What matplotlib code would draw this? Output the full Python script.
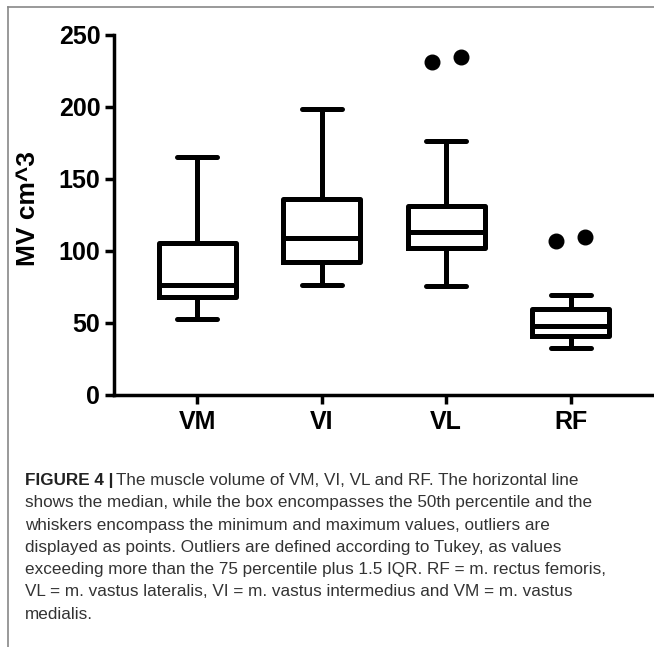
import matplotlib
matplotlib.use("Agg")
import matplotlib.pyplot as plt
from matplotlib.lines import Line2D

plt.rcParams['font.family'] = ['Liberation Sans', 'DejaVu Sans']

# muscle volume per muscle
muscles = ['VM', 'VI', 'VL', 'RF']
whisker_lo = [52.5, 76.1, 75.7, 32.5]
q1 = [67.7, 91.8, 101.7, 40.8]
median = [76.1, 108.6, 113.1, 47.5]
q3 = [105.1, 136.3, 130.9, 59.3]
whisker_hi = [165.4, 198.7, 176.3, 69.2]
outliers = [[], [], [231.0, 234.9], [106.7, 109.7]]

yticks = [0, 50, 100, 150, 200, 250]

caption_lines = [
    "shows the median, while the box encompasses the 50th percentile and the",
    "whiskers encompass the minimum and maximum values, outliers are",
    "displayed as points. Outliers are defined according to Tukey, as values",
    "exceeding more than the 75 percentile plus 1.5 IQR. RF = m. rectus femoris,",
    "VL = m. vastus lateralis, VI = m. vastus intermedius and VM = m. vastus",
    "medialis.",
]

W, H = 654, 647
fig = plt.figure(figsize=(W / 100, H / 100), dpi=100)
ax = fig.add_axes([113.5 / W, 1 - 394.5 / H, (W - 113.5) / W, 359.5 / H])

stats = []
for i, m in enumerate(muscles):
    stats.append(dict(label=m, whislo=whisker_lo[i], q1=q1[i], med=median[i],
                      q3=q3[i], whishi=whisker_hi[i], fliers=[]))

pos = list(range(1, len(muscles) + 1))
lw = 3.6
ax.bxp(stats, positions=pos, widths=0.62, capwidths=0.32, showfliers=False,
       boxprops=dict(color='black', linewidth=lw),
       medianprops=dict(color='black', linewidth=lw),
       whiskerprops=dict(color='black', linewidth=lw),
       capprops=dict(color='black', linewidth=lw, solid_capstyle='round'))

# outliers sit side by side around the box centre
for i, vals in enumerate(outliers):
    n = len(vals)
    for j, v in enumerate(vals):
        off = (j - (n - 1) / 2) * 0.23
        ax.plot(pos[i] + off, v, 'o', color='black', markersize=10.5)

ax.set_xlim(0.326, 4.67)
ax.set_ylim(0, 250)
ax.set_yticks(yticks)
ax.set_xticks(pos)
ax.set_xticklabels(muscles)
for s in ['top', 'right']:
    ax.spines[s].set_visible(False)
for s in ['left', 'bottom']:
    ax.spines[s].set_linewidth(2.5)
ax.tick_params(axis='both', width=2.5, length=6.5, labelsize=18)
ax.tick_params(axis='x', pad=5)
ax.tick_params(axis='y', pad=3)
for lab in ax.get_xticklabels() + ax.get_yticklabels():
    lab.set_fontweight('bold')

fig.text(28 / W, 1 - 209 / H, 'MV cm^3', rotation=90, ha='center', va='center',
         fontsize=19, fontweight='bold')

# grey frame around the panel
fig.add_artist(Line2D([8 / W, 8 / W], [0, 1 - 7 / H], color='#888888', linewidth=1.2))
fig.add_artist(Line2D([8 / W, 1], [1 - 7 / H, 1 - 7 / H], color='#888888', linewidth=1.2))

# caption
x0 = 25 / W
cap_size = 12.3
base = 485
step = 22.3
t = fig.text(x0, 1 - base / H, 'FIGURE 4 |', fontsize=cap_size, fontweight='bold',
             va='baseline', color='#222222')
fig.canvas.draw()
bb = t.get_window_extent(fig.canvas.get_renderer())
fig.text(bb.x1 / W + 3 / W, 1 - base / H,
         'The muscle volume of VM, VI, VL and RF. The horizontal line',
         fontsize=cap_size, va='baseline', color='#333333')
for k, line in enumerate(caption_lines):
    fig.text(x0, 1 - (base + step * (k + 1)) / H, line, fontsize=cap_size,
             va='baseline', color='#333333')

fig.savefig('out.png', dpi=100)
